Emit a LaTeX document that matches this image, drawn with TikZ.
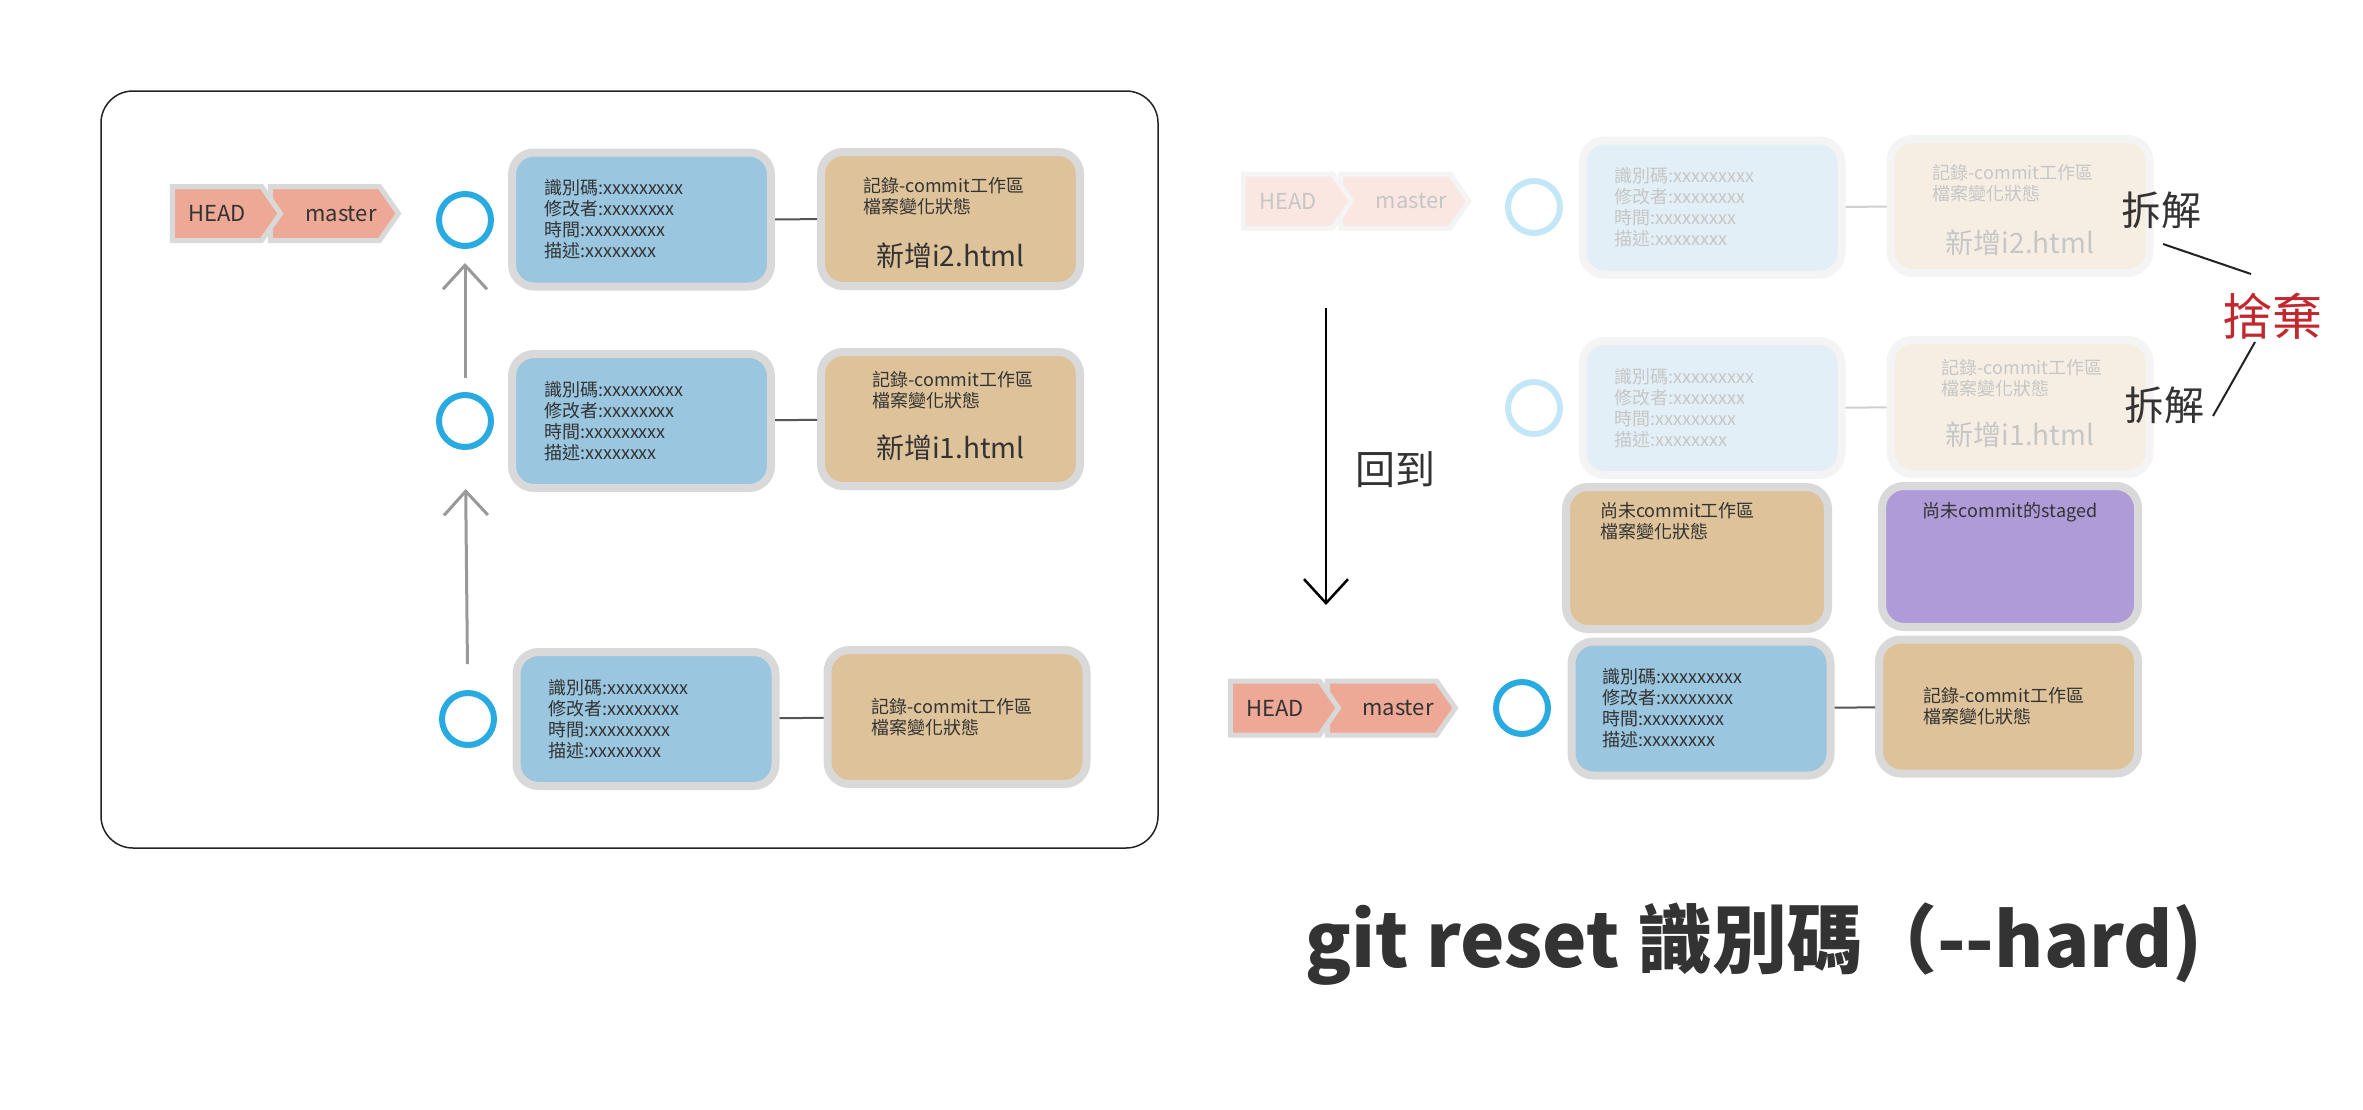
\documentclass[tikz,border=0pt]{standalone}
\usepackage{fontspec}
\setmainfont{Noto Sans CJK TC}
\usepackage{xcolor}
\usepackage{tikz}
\usetikzlibrary{arrows.meta,shapes.symbols,positioning}

\definecolor{commitblue}{HTML}{9AC6DF}
\definecolor{filetan}{HTML}{DEC39A}
\definecolor{edgegray}{HTML}{D9D9D9}
\definecolor{headred}{HTML}{EDA995}
\definecolor{ringblue}{HTML}{29ABE2}
\definecolor{stagepurple}{HTML}{B09BD9}
\definecolor{dropred}{HTML}{C1272D}
\definecolor{inkgray}{HTML}{333333}
\definecolor{linkgray}{HTML}{555555}
\definecolor{arrowgray}{HTML}{999999}
\definecolor{framegray}{HTML}{222222}

\newcommand{\commitinfo}{識別碼:xxxxxxxxx\\修改者:xxxxxxxx\\時間:xxxxxxxxx\\描述:xxxxxxxx}
\newcommand{\filestate}{記錄-commit工作區\\檔案變化狀態}

\begin{document}
\begin{tikzpicture}[x=1pt, y=-1pt,
  box/.style={rectangle, rounded corners=22pt, line width=8pt, draw=edgegray, minimum width=259pt, minimum height=134pt, inner sep=0pt},
  commit/.style={box, fill=commitblue},
  files/.style={box, fill=filetan},
  ghostcommit/.style={box, draw=edgegray!28, fill=commitblue!28},
  ghostfiles/.style={box, draw=edgegray!28, fill=filetan!28},
  ring/.style={circle, draw=ringblue, line width=6pt, minimum size=52pt, inner sep=0pt},
  ghostring/.style={ring, draw=ringblue!28},
  tag/.style={signal, signal to=east, signal pointer angle=110, line width=5pt, draw=edgegray, fill=headred, minimum height=54pt, inner sep=0pt, font=\fontsize{22}{24}\selectfont, text=inkgray},
  headtag/.style={tag, minimum width=108pt},
  mastertag/.style={tag, minimum width=128pt},
  ghosttag/.style={draw=edgegray!28, fill=headred!28, text=inkgray!28},
  info/.style={inner sep=0pt, align=left, font=\fontsize{18}{21}\selectfont, text=inkgray},
  ghostinfo/.style={info, text=inkgray!28},
  fname/.style={inner sep=0pt, font=\fontsize{28}{30}\selectfont, text=inkgray},
  ghostfname/.style={fname, text=inkgray!28},
  link/.style={draw=linkgray, line width=2pt},
  ghostlink/.style={draw=linkgray!28, line width=2pt},
  parent/.style={draw=arrowgray, line width=3pt, -{Straight Barb[length=24pt, width=44pt]}},
  note/.style={inner sep=0pt, font=\fontsize{40}{44}\selectfont, text=inkgray},
]
\useasboundingbox (0,0) rectangle (2363,1109);

%%%%% Before reset %%%%%
\draw[line width=1.5pt, draw=framegray, rounded corners=32pt] (101,91) rectangle (1158,848);

\node[mastertag] (master) at (325,213.5) {\hspace{32pt}master};
\node[headtag] (head) at (217,213.5) {HEAD};

\node[ring] (c1) at (465,220) {};
\node[ring] (c2) at (465,421) {};
\node[ring] (c3) at (468,719) {};
\draw[parent, shorten <=14pt, shorten >=14pt] (c2) -- (c1);
\draw[parent, shorten <=26pt, shorten >=39pt] (c3) -- (c2);

\node[commit] (b1) at (641.5,219.5) {};
\node[files] (t1) at (950.5,219) {};
\node[commit] (b2) at (641.5,421) {};
\node[files] (t2) at (950.5,419) {};
\node[commit] (b3) at (646,719) {};
\node[files] (t3) at (957,717) {};
\draw[link] (b1) -- (t1);
\draw[link] (b2) -- (t2);
\draw[link] (b3) -- (t3);

\node[info, anchor=west] (b1txt) at ([xshift=36pt]b1.west) {\commitinfo};
\node[info, anchor=west] (b2txt) at ([xshift=36pt]b2.west) {\commitinfo};
\node[info, anchor=west] (b3txt) at ([xshift=36pt]b3.west) {\commitinfo};
\node[info, anchor=north west] (t1txt) at ([xshift=46pt, yshift=-29pt]t1.north west) {\filestate};
\node[info, anchor=north west] (t2txt) at ([xshift=55pt, yshift=-23pt]t2.north west) {\filestate};
\node[info, anchor=west] (t3txt) at ([xshift=48pt]t3.west) {\filestate};
\node[fname, anchor=base] (t1file) at ([yshift=24pt]t1.south) {新增i2.html};
\node[fname, anchor=base] (t2file) at ([yshift=32pt]t2.south) {新增i1.html};

%%%%% After reset %%%%%
\node[mastertag, ghosttag] (oldmaster) at (1395.5,201) {\hspace{32pt}master};
\node[headtag, ghosttag] (oldhead) at (1288,201) {HEAD};
\node[ghostring] (g1) at (1534,207) {};
\node[ghostring] (g2) at (1534,408) {};
\node[ghostcommit] (gb1) at (1712,207.5) {};
\node[ghostfiles] (gt1) at (2020,206) {};
\node[ghostcommit] (gb2) at (1712,408) {};
\node[ghostfiles] (gt2) at (2020,407) {};
\draw[ghostlink] (gb1) -- (gt1);
\draw[ghostlink] (gb2) -- (gt2);
\node[ghostinfo, anchor=west] (gb1txt) at ([xshift=36pt]gb1.west) {\commitinfo};
\node[ghostinfo, anchor=west] (gb2txt) at ([xshift=36pt]gb2.west) {\commitinfo};
\node[ghostinfo, anchor=north west] (gt1txt) at ([xshift=46pt, yshift=-29pt]gt1.north west) {\filestate};
\node[ghostinfo, anchor=north west] (gt2txt) at ([xshift=55pt, yshift=-23pt]gt2.north west) {\filestate};
\node[ghostfname, anchor=base] (gt1file) at ([yshift=24pt]gt1.south) {新增i2.html};
\node[ghostfname, anchor=base] (gt2file) at ([yshift=33pt]gt2.south) {新增i1.html};

\node[files, minimum width=262pt, minimum height=142pt] (wk) at (1697,558) {};
\node[box, fill=stagepurple, minimum width=256pt, minimum height=141pt] (st) at (2010,556.5) {};
\node[info, anchor=north west] (wktxt) at ([xshift=38pt, yshift=-19pt]wk.north west) {尚未commit工作區\\檔案變化狀態};
\node[info, anchor=base] (sttxt) at ([yshift=-35pt]st.north) {尚未commit的staged};

\node[mastertag] (newmaster) at (1382,708) {\hspace{32pt}master};
\node[headtag] (newhead) at (1275,708) {HEAD};
\node[ring] (n1) at (1522,708) {};
\node[commit] (nb) at (1701,708.5) {};
\node[files] (nt) at (2008.5,706.5) {};
\draw[link] (nb) -- (nt);
\node[info, anchor=west] (nbtxt) at ([xshift=35pt]nb.west) {\commitinfo};
\node[info, anchor=west] (nttxt) at ([xshift=48pt]nt.west) {\filestate};

% back to an older commit
\coordinate (from) at (1326,308);
\coordinate (to) at (1326,605);
\draw[line width=2.5pt, -{Straight Barb[length=24pt, width=44pt]}] (from) -- (to);
\node[note] (goback) at (1395,470) {回到};

% dropped commits
\node[note] (split1) at (2161,210) {拆解};
\node[note] (split2) at (2164,405) {拆解};
\node[note, text=dropred, font=\fontsize{50}{54}\selectfont] (drop) at (2272,316) {捨棄};
\coordinate (s1end) at (2163,244);
\coordinate (d1end) at (2251,274);
\coordinate (d2end) at (2255,342);
\coordinate (s2end) at (2213,416);
\draw[draw=framegray, line width=2pt] (s1end) -- (d1end);
\draw[draw=framegray, line width=2pt] (d2end) -- (s2end);

\node[anchor=base west, inner sep=0pt, text=inkgray, font=\fontsize{75}{85}\selectfont\bfseries] (title) at (1305,967) {git reset 識別碼（-{}-hard)};
\end{tikzpicture}
\end{document}
